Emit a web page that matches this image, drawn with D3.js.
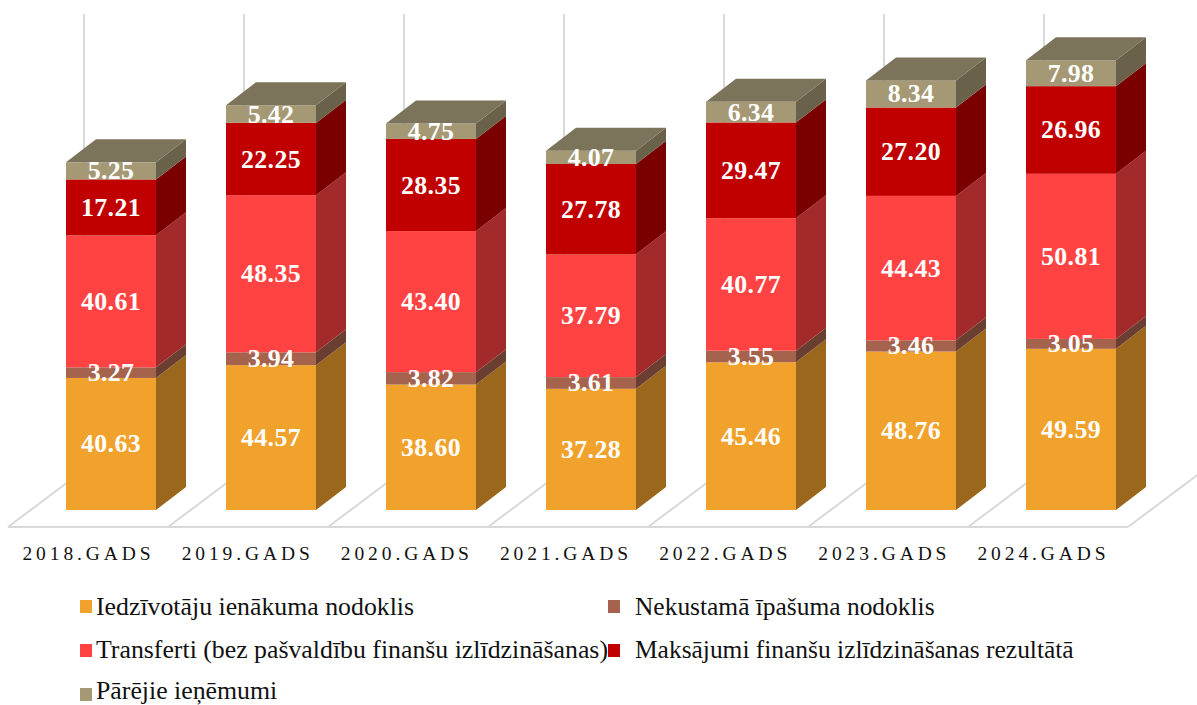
<!DOCTYPE html>
<html lang="en">
<head>
<meta charset="utf-8">
<title>Ieņēmumi</title>
<script src="https://d3js.org/d3.v7.min.js"></script>
<style>
  html, body { margin: 0; padding: 0; background: #fff; overflow: hidden; }
  svg { display: block; }
  text { font-family: "Liberation Serif", serif; }
  .value { fill: #fff; font-weight: bold; font-size: 25.8px; letter-spacing: 0.4px; text-anchor: middle; }
  .tick text { font-size: 19.5px; letter-spacing: 3.9px; fill: #111; }
  .legend { font-size: 25.8px; fill: #111; }
  .legend.right { font-size: 25.45px; }
</style>
</head>
<body>
<div id="main"></div>
<script type="text/javascript">
    const years = ['2018.GADS', '2019.GADS', '2020.GADS', '2021.GADS', '2022.GADS', '2023.GADS', '2024.GADS'];
    const seriesNames = [
        'Iedzīvotāju ienākuma nodoklis',
        'Nekustamā īpašuma nodoklis',
        'Transferti (bez pašvaldību finanšu izlīdzināšanas)',
        'Maksājumi finanšu izlīdzināšanas rezultātā',
        'Pārējie ieņēmumi'
    ];
    const iin = [40.63, 44.57, 38.60, 37.28, 45.46, 48.76, 49.59];
    const nin = [3.27, 3.94, 3.82, 3.61, 3.55, 3.46, 3.05];
    const transferti = [40.61, 48.35, 43.40, 37.79, 40.77, 44.43, 50.81];
    const maksajumi = [17.21, 22.25, 28.35, 27.78, 29.47, 27.20, 26.96];
    const parejie = [5.25, 5.42, 4.75, 4.07, 6.34, 8.34, 7.98];
    const seriesValues = [iin, nin, transferti, maksajumi, parejie];

    const frontColors = ['#F1A22D', '#A5634D', '#FF4343', '#C00000', '#A59874'];
    const sideColors = ['#9A671C', '#6A3F31', '#A32A2A', '#7A0000', '#6A614A'];
    const topColor = '#7B735A';
    const gridColor = '#D9D9D9';

    const width = 1197;
    const height = 705;
    const depthX = 30;
    const depthY = 23;
    const floorShift = 58;

    const svg = d3.select('#main').append('svg')
        .attr('width', width)
        .attr('height', height);

    const xScale = d3.scaleBand()
        .domain(years)
        .range([31, 1151])
        .paddingInner(0.4375)
        .paddingOuter(0.21875);

    const yScale = d3.scaleLinear()
        .domain([0, 100])
        .range([510, 185]);

    const labelScale = d3.scalePoint()
        .domain(years)
        .range([88, 1043]);

    // floor and back wall
    const floorY = yScale(0) + 17;
    const grid = svg.append('g')
        .attr('fill', 'none')
        .attr('stroke', gridColor)
        .attr('stroke-width', 2);
    grid.append('line')
        .attr('x1', xScale(years[0]) - floorShift)
        .attr('x2', xScale(years[6]) + xScale.step() - floorShift)
        .attr('y1', floorY)
        .attr('y2', floorY);
    years.forEach(year => {
        const x0 = xScale(year) - floorShift;
        grid.append('polyline')
            .attr('points', [[x0, floorY], [x0 + 76, floorY - 57], [x0 + 76, 14]].join(' '));
    });
    const lastX = xScale(years[6]) + xScale.step() - floorShift;
    grid.append('line')
        .attr('x1', lastX).attr('y1', floorY)
        .attr('x2', lastX + 76).attr('y2', floorY - 57);

    // bars
    const barWidth = xScale.bandwidth();
    years.forEach((year, i) => {
        const x0 = xScale(year);
        const bar = svg.append('g');
        let sum = 0;
        seriesValues.forEach((values, s) => {
            const y0 = yScale(sum);
            const y1 = yScale(sum + values[i]);
            sum += values[i];
            bar.append('polygon')
                .attr('points', [
                    [x0 + barWidth, y0],
                    [x0 + barWidth + depthX, y0 - depthY],
                    [x0 + barWidth + depthX, y1 - depthY],
                    [x0 + barWidth, y1]
                ].join(' '))
                .attr('fill', sideColors[s]);
            bar.append('rect')
                .attr('x', x0)
                .attr('y', y1)
                .attr('width', barWidth)
                .attr('height', y0 - y1)
                .attr('fill', frontColors[s]);
        });
        const yTop = yScale(sum);
        bar.append('polygon')
            .attr('points', [
                [x0, yTop],
                [x0 + depthX, yTop - depthY],
                [x0 + barWidth + depthX, yTop - depthY],
                [x0 + barWidth, yTop]
            ].join(' '))
            .attr('fill', topColor);

        let labelSum = 0;
        seriesValues.forEach(values => {
            bar.append('text')
                .attr('class', 'value')
                .attr('x', x0 + barWidth / 2)
                .attr('y', yScale(labelSum + values[i] / 2))
                .attr('dy', '0.33em')
                .text(values[i].toFixed(2));
            labelSum += values[i];
        });
    });

    // category labels
    const xAxis = d3.axisBottom(labelScale).tickSize(0).tickPadding(0);
    svg.append('g')
        .attr('transform', 'translate(0, 554)')
        .call(xAxis)
        .call(g => g.select('.domain').remove())
        .call(g => g.selectAll('text').attr('y', 0).attr('dy', '0.33em'))
        .attr('font-family', null)
        .attr('font-size', null);

    // legend
    const legendSpots = [[80, 600, 615], [608, 600, 615], [80, 644, 658], [608, 644, 658], [80, 688, 699]];
    seriesNames.forEach((name, i) => {
        const [lx, swatchY, baseline] = legendSpots[i];
        svg.append('rect')
            .attr('x', lx)
            .attr('y', swatchY)
            .attr('width', 12)
            .attr('height', 13)
            .attr('fill', frontColors[i]);
        svg.append('text')
            .attr('class', i % 2 ? 'legend right' : 'legend')
            .attr('x', lx + (i % 2 ? 27 : 16))
            .attr('y', baseline)
            .text(name);
    });
</script>
</body>
</html>
